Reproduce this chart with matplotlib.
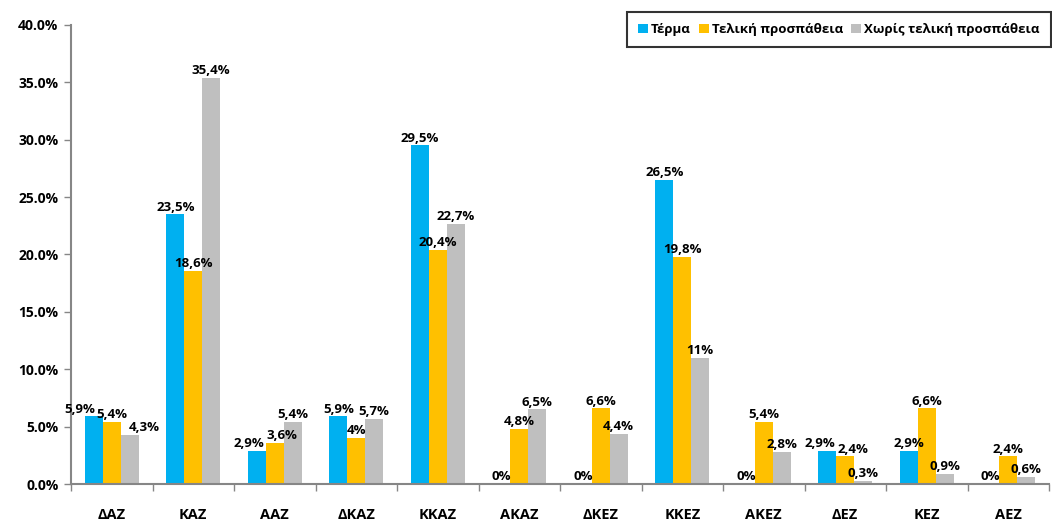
import matplotlib
matplotlib.use("Agg")
import matplotlib.pyplot as plt
import numpy as np
from matplotlib.ticker import FuncFormatter, FixedLocator

plt.rcParams['font.family'] = ['Open Sans', 'DejaVu Sans']

categories = ["ΔΑΖ", "ΚΑΖ", "ΑΑΖ", "ΔΚΑΖ", "ΚΚΑΖ", "ΑΚΑΖ", "ΔΚΕΖ", "ΚΚΕΖ", "ΑΚΕΖ", "ΔΕΖ", "ΚΕΖ", "ΑΕΖ"]
series_names = ["Τέρμα", "Τελική προσπάθεια", "Χωρίς τελική προσπάθεια"]
terma = [5.9, 23.5, 2.9, 5.9, 29.5, 0, 0, 26.5, 0, 2.9, 2.9, 0]
teliki = [5.4, 18.6, 3.6, 4.0, 20.4, 4.8, 6.6, 19.8, 5.4, 2.4, 6.6, 2.4]
xoris = [4.3, 35.4, 5.4, 5.7, 22.7, 6.5, 4.4, 11.0, 2.8, 0.3, 0.9, 0.6]
colors = ["#00B0F0", "#FFC000", "#BFBFBF"]

def fmt_label(v):
    if abs(v - round(v)) < 1e-9:
        return f"{int(round(v))}%"
    return f"{v:.1f}".replace(".", ",") + "%"

DPI = 100
fig = plt.figure(figsize=(10.52, 5.23), dpi=DPI)
ax = fig.add_axes([71/1052, 1 - 484/523, (1049 - 71)/1052, (484 - 25)/523])

x = np.arange(len(categories))
w = 0.22
labels = [[None] * 3 for _ in categories]
for i, (vals, name, c) in enumerate(zip([terma, teliki, xoris], series_names, colors)):
    pos = x + (i - 1) * w
    bars = ax.bar(pos, vals, width=w, color=c, label=name, zorder=2)
    for k, (b, v) in enumerate(zip(bars, vals)):
        labels[k][i] = ax.annotate(fmt_label(v), (b.get_x() + b.get_width() / 2, v),
                                   xytext=(0, 0.5), textcoords="offset points",
                                   ha="center", va="bottom", fontsize=9.5,
                                   fontweight="bold", color="black")

ax.set_xlim(-0.5, len(categories) - 0.5)
ax.set_ylim(0, 40)
ax.set_yticks(np.arange(0, 40.1, 5))
ax.yaxis.set_major_formatter(FuncFormatter(lambda v, p: f"{v:.1f}%"))
ax.set_xticks(x)
ax.set_xticklabels(categories)
ax.xaxis.set_minor_locator(FixedLocator(np.arange(-0.5, len(categories), 1)))
ax.tick_params(axis="x", which="major", length=0, pad=17, labelsize=10.5)
ax.tick_params(axis="x", which="minor", length=5, width=1, color="#868686", direction="out")
ax.tick_params(axis="y", length=5, width=1, color="#868686", labelsize=10, pad=4)
for lab in ax.get_xticklabels() + ax.get_yticklabels():
    lab.set_fontweight("bold")

for s in ["top", "right"]:
    ax.spines[s].set_visible(False)
for s in ["left", "bottom"]:
    ax.spines[s].set_color("#868686")
    ax.spines[s].set_linewidth(1.5)

leg = fig.legend(loc="upper right", bbox_to_anchor=(1051/1052, 1 - 12/523), ncol=3,
                 frameon=True, fancybox=False, edgecolor="black",
                 handlelength=0.75, handleheight=0.75, handletextpad=0.25, columnspacing=0.6,
                 borderpad=0.85, borderaxespad=0.0, prop={"weight": "bold", "size": 9.5})
leg.get_frame().set_linewidth(1.5)

# push apart overlapping data labels within each group (like Excel's label layout)
fig.canvas.draw()
renderer = fig.canvas.get_renderer()
px2pt = 72.0 / DPI
for _ in range(6):
    moved = False
    for group in labels:
        for a in range(3):
            for b in range(a + 1, 3):
                ta, tb = group[a], group[b]
                ba = ta.get_window_extent(renderer)
                bb = tb.get_window_extent(renderer)
                ox = min(ba.x1, bb.x1) - max(ba.x0, bb.x0)
                oy = min(ba.y1, bb.y1) - max(ba.y0, bb.y0)
                if ox > -1 and oy > 0:
                    d = (ox + 2) / 2.0 * px2pt
                    xa, ya = ta.xyann
                    xb, yb = tb.xyann
                    ta.xyann = (xa - d, ya)
                    tb.xyann = (xb + d, yb)
                    moved = True
    if not moved:
        break

fig.savefig("out.png", dpi=DPI)
